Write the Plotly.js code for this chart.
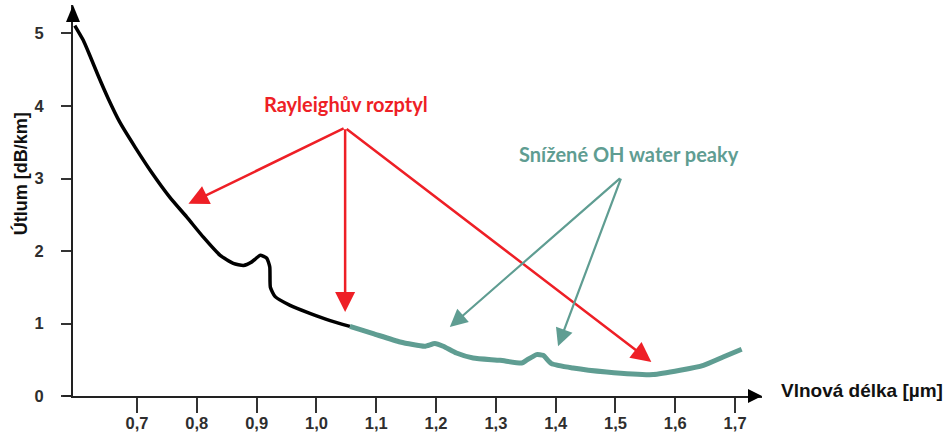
<!DOCTYPE html>
<html>
<head>
<meta charset="utf-8">
<script src="https://cdn.plot.ly/plotly-3.0.1.min.js"></script>
<style>html,body{margin:0;padding:0;background:#fff;}#chart{width:947px;height:439px;}</style>
</head>
<body>
<div id="chart"></div>
<script>
// Wavelength [µm] and attenuation [dB/km]
const darkWl  = [0.596, 0.610, 0.621, 0.635, 0.652, 0.671, 0.697, 0.724, 0.755, 0.783, 0.811, 0.839, 0.861, 0.878, 0.892, 0.906, 0.917, 0.922, 0.923, 0.931, 0.956, 0.989, 1.023, 1.056];
const darkAtt = [5.11, 4.91, 4.70, 4.42, 4.10, 3.78, 3.43, 3.09, 2.74, 2.47, 2.19, 1.94, 1.83, 1.80, 1.85, 1.94, 1.90, 1.78, 1.50, 1.37, 1.25, 1.14, 1.04, 0.96];
const lowOhWl  = [1.056, 1.095, 1.140, 1.181, 1.198, 1.212, 1.234, 1.262, 1.307, 1.343, 1.351, 1.368, 1.379, 1.393, 1.429, 1.485, 1.563, 1.608, 1.647, 1.680, 1.711];
const lowOhAtt = [0.96, 0.86, 0.745, 0.686, 0.723, 0.686, 0.593, 0.524, 0.492, 0.455, 0.492, 0.571, 0.561, 0.447, 0.386, 0.331, 0.295, 0.354, 0.423, 0.538, 0.644];

const xTickVals = [0.7, 0.8, 0.9, 1.0, 1.1, 1.2, 1.3, 1.4, 1.5, 1.6, 1.7];
const xTickText = ['0,7', '0,8', '0,9', '1,0', '1,1', '1,2', '1,3', '1,4', '1,5', '1,6', '1,7'];
const yTickVals = [0, 1, 2, 3, 4, 5];

const RED = '#ee1f26';
const TEAL = '#5f9d92';
const tickFont = {family: 'Liberation Sans, Arial, sans-serif', size: 16.5, color: '#2e2e2e', weight: 'bold'};

const traces = [
  {x: darkWl, y: darkAtt, mode: 'lines', line: {color: '#000', width: 3.5, shape: 'spline', smoothing: 0.5}, hoverinfo: 'skip'},
  {x: lowOhWl, y: lowOhAtt, mode: 'lines', line: {color: TEAL, width: 5, shape: 'spline', smoothing: 0.5}, hoverinfo: 'skip'}
];

function arrow(tipX, tipY, fromX, fromY, color, width, size) {
  return {x: tipX, y: tipY, ax: fromX, ay: fromY, xref: 'x', yref: 'y', axref: 'x', ayref: 'y',
          text: '', showarrow: true, arrowhead: 2, arrowsize: size, arrowwidth: width, arrowcolor: color, standoff: 0};
}
const labelFont = (c) => ({family: 'Lato, sans-serif', size: 20, color: c, weight: 'bold'});

const layout = {
  width: 947, height: 439,
  margin: {l: 73, r: 185, t: 5, b: 43},
  paper_bgcolor: '#fff', plot_bgcolor: '#fff',
  showlegend: false,
  xaxis: {range: [0.593, 1.745], showgrid: false, zeroline: false, showline: true, linecolor: '#222', linewidth: 2,
          tickvals: xTickVals, ticktext: xTickText, ticks: 'outside', ticklen: 15, tickwidth: 2, tickcolor: '#333',
          tickfont: tickFont, ticklabelstandoff: -4, fixedrange: true},
  yaxis: {range: [0, 5.393], showgrid: false, zeroline: false, showline: true, linecolor: '#222', linewidth: 2,
          tickvals: yTickVals, ticks: 'outside', ticklen: 10, tickwidth: 2, tickcolor: '#333',
          tickfont: tickFont, ticklabelstandoff: 14, fixedrange: true},
  shapes: [
    {type: 'path', xref: 'paper', yref: 'paper', xsizemode: 'pixel', ysizemode: 'pixel', xanchor: 1, yanchor: 0,
     path: 'M -14,-7 L 0,0 L -14,7 Z', fillcolor: '#000', line: {width: 0}},
    {type: 'path', xref: 'paper', yref: 'paper', xsizemode: 'pixel', ysizemode: 'pixel', xanchor: 0, yanchor: 1,
     path: 'M -7,-17 L 0,0 L 7,-17 Z', fillcolor: '#000', line: {width: 0}},
    {type: 'line', xref: 'paper', yref: 'paper', xsizemode: 'pixel', xanchor: 0, x0: -10, x1: 0, y0: 0, y1: 0,
     line: {color: '#222', width: 2}}
  ],
  annotations: [
    {x: 1.049, y: 4.03, xref: 'x', yref: 'y', text: 'Rayleighův rozptyl', showarrow: false, font: labelFont(RED)},
    {x: 1.523, y: 3.34, xref: 'x', yref: 'y', text: 'Snížené OH water peaky', showarrow: false, font: labelFont(TEAL)},
    arrow(0.786, 2.65, 1.048, 3.70, RED, 2.5, 1.6),
    arrow(1.048, 1.16, 1.048, 3.70, RED, 2.5, 1.6),
    arrow(1.560, 0.469, 1.048, 3.70, RED, 2.5, 1.6),
    arrow(1.223, 0.952, 1.510, 3.02, TEAL, 2.2, 1.6),
    arrow(1.404, 0.686, 1.510, 3.02, TEAL, 2.2, 1.6),
    {x: 1, y: 0, xref: 'paper', yref: 'paper', xanchor: 'left', yanchor: 'middle', xshift: 17, yshift: 6,
     text: 'Vlnová délka [µm]', showarrow: false, font: {family: 'Liberation Sans, Arial, sans-serif', size: 19, color: '#111', weight: 'bold'}},
    {x: 0, y: 3.06, xref: 'paper', yref: 'y', xanchor: 'center', yanchor: 'middle', text: 'Útlum [dB/km]', showarrow: false, textangle: -90,
     font: {family: 'Liberation Sans, Arial, sans-serif', size: 18, color: '#111', weight: 'bold'}, xshift: -53}
  ]
};

Plotly.newPlot('chart', traces, layout, {staticPlot: true, displayModeBar: false});
</script>
</body>
</html>
